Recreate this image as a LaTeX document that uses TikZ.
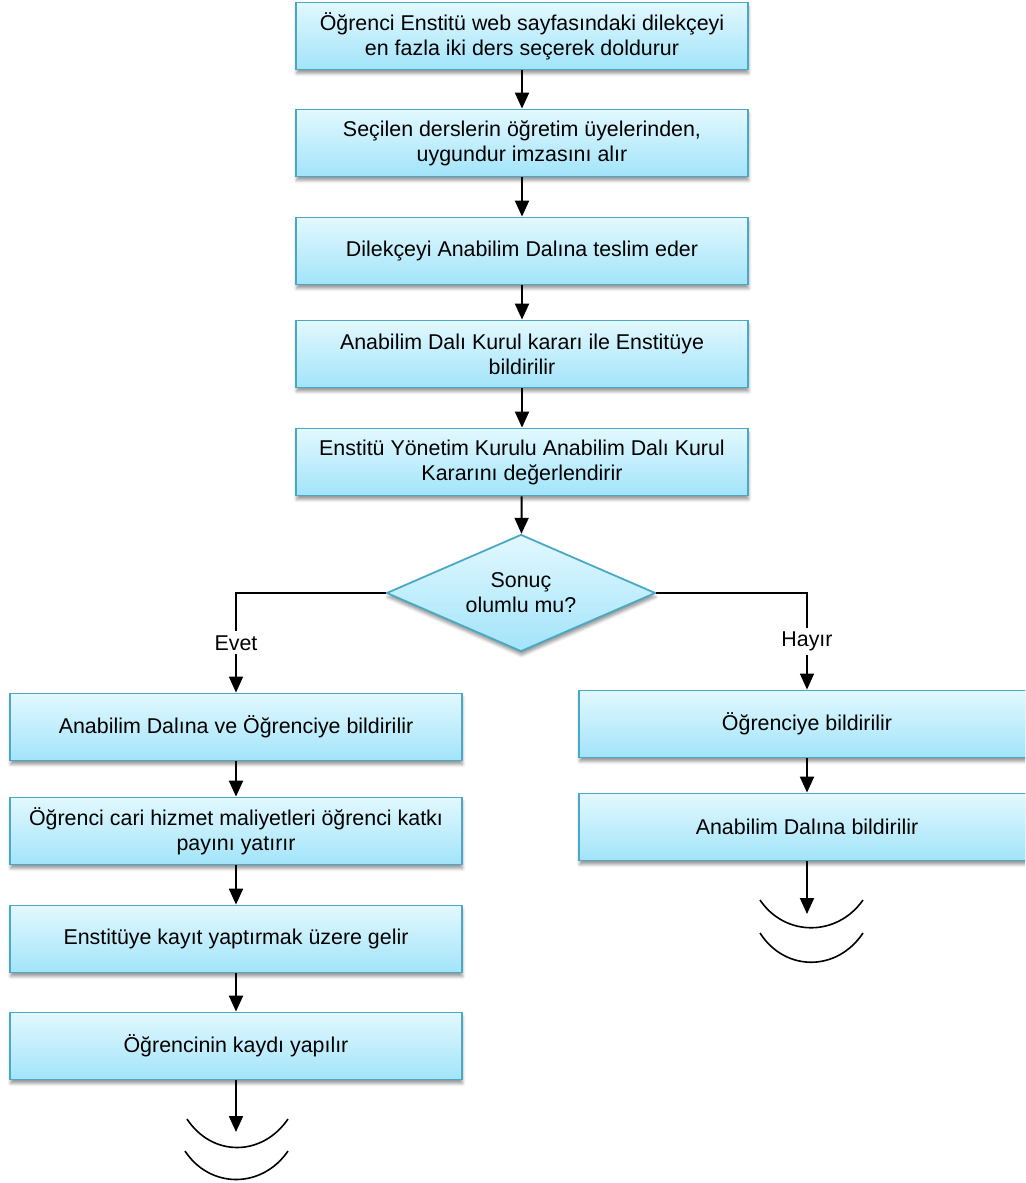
\documentclass[tikz,border=0pt]{standalone}
\usepackage{fontspec}
\setmainfont{Liberation Sans}
\usetikzlibrary{shapes.geometric, arrows.meta, shadows.blur}
\definecolor{boxtop}{HTML}{E2F8FE}
\definecolor{boxbot}{HTML}{A2E4FA}
\definecolor{boxline}{HTML}{4BA8C5}
\tikzstyle{stepbox}=[draw=boxline, line width=0.9pt, top color=boxtop, bottom color=boxbot,
    minimum width=226pt, minimum height=33.5pt, align=center,
    font=\fontsize{10.7pt}{12.5pt}\selectfont,
    blur shadow={shadow xshift=0.3pt, shadow yshift=-2pt, shadow blur radius=1.5pt}]
\tikzstyle{decision}=[diamond, draw=boxline, line width=0.9pt, top color=boxtop, bottom color=boxbot,
    minimum width=134.5pt, minimum height=58.5pt, inner sep=0pt, aspect=2.3, align=center,
    font=\fontsize{10.7pt}{12.5pt}\selectfont,
    blur shadow={shadow xshift=0.3pt, shadow yshift=-2pt, shadow blur radius=1.5pt}]
\tikzstyle{flow}=[-{Triangle[length=8pt, width=7pt]}, line width=1pt]
\tikzstyle{branch}=[-{Triangle[length=8pt, width=7pt]}, line width=0.7pt]
\tikzstyle{answer}=[fill=white, inner sep=2pt, font=\fontsize{10.7pt}{12.5pt}\selectfont]

\begin{document}
\begin{tikzpicture}[x=0.5pt, y=-0.5pt]
\clip (0,0) rectangle (1025,1183);
% Main steps
    \node[stepbox] (s1) at (522,36) {Öğrenci Enstitü web sayfasındaki dilekçeyi\\en fazla iki ders seçerek doldurur};
    \node[stepbox] (s2) at (522,143) {Seçilen derslerin öğretim üyelerinden,\\uygundur imzasını alır};
    \node[stepbox] (s3) at (522,251) {Dilekçeyi Anabilim Dalına teslim eder};
    \node[stepbox] (s4) at (522,354) {Anabilim Dalı Kurul kararı ile Enstitüye\\bildirilir};
    \node[stepbox] (s5) at (522,462) {Enstitü Yönetim Kurulu Anabilim Dalı Kurul\\Kararını değerlendirir};
    \node[decision] (sonuc) at (521,593) {Sonuç\\olumlu mu?};
% Evet branch
    \node[stepbox] (e1) at (236,727) {Anabilim Dalına ve Öğrenciye bildirilir};
    \node[stepbox] (e2) at (236,831) {Öğrenci cari hizmet maliyetleri öğrenci katkı\\payını yatırır};
    \node[stepbox] (e3) at (236,939) {Enstitüye kayıt yaptırmak üzere gelir};
    \node[stepbox] (e4) at (236,1046) {Öğrencinin kaydı yapılır};
% Hayir branch
    \node[stepbox, minimum width=228pt] (h1) at (807,724) {Öğrenciye bildirilir};
    \node[stepbox, minimum width=228pt] (h2) at (807,827) {Anabilim Dalına bildirilir};
% Arrows
    \draw[flow] (s1) -- (s2);
    \draw[flow] (s2) -- (s3);
    \draw[flow] (s3) -- (s4);
    \draw[flow] (s4) -- (s5);
    \draw[flow] (s5) -- (sonuc);
    \draw[branch] (sonuc.west) -| node[answer, pos=0.75] {Evet} (e1.north);
    \draw[branch] (sonuc.east) -| node[answer, pos=0.75] {Hayır} (h1.north);
    \draw[flow] (e1.south) -- (e2.north);
    \draw[flow] (e2.south) -- (e3.north);
    \draw[flow] (e3.south) -- (e4.north);
    \draw[flow] (h1.south) -- (h2.north);
% Ends
    \coordinate (eend) at (236,1132);
    \coordinate (hend) at (807,914);
    \draw[flow] (e4.south) -- (eend);
    \draw[flow] (h2.south) -- (hend);
    \draw[line width=0.8pt] (187,1119) .. controls (212,1157) and (262,1157) .. (288,1119);
    \draw[line width=0.8pt] (185,1151) .. controls (210,1189) and (262,1189) .. (288,1151);
    \draw[line width=0.8pt] (760,900) .. controls (785,937) and (837,937) .. (863,900);
    \draw[line width=0.8pt] (760,933) .. controls (785,972) and (837,972) .. (863,933);
\end{tikzpicture}
\end{document}
